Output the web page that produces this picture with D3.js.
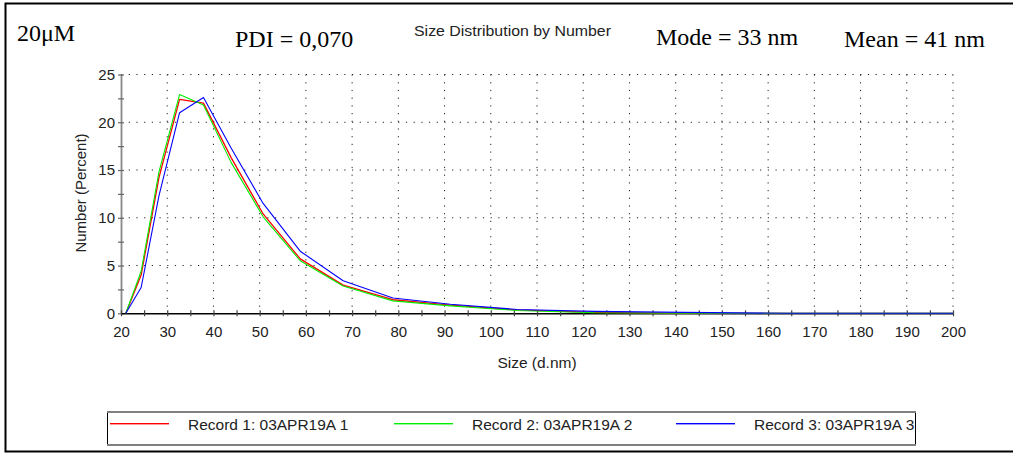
<!DOCTYPE html>
<html>
<head>
<meta charset="utf-8">
<script src="https://cdn.jsdelivr.net/npm/d3@7/dist/d3.min.js"></script>
<style>
  html, body { margin: 0; padding: 0; background: #fff; }
  svg { display: block; }
</style>
</head>
<body>
<svg id="chart" width="1013" height="453"></svg>
<script>
// ---- data ----
const sizes = [21.04, 24.36, 28.21, 32.67, 37.84, 43.82, 50.75, 58.77, 68.06, 78.82, 91.28, 105.7, 122.4, 141.8, 164.2, 190.1, 220.2];
const record1 = [0, 4.0, 14.2, 22.4, 22.0, 16.3, 10.4, 5.7, 2.95, 1.42, 0.85, 0.35, 0.1, 0, 0, 0, 0];
const record2 = [0, 4.4, 14.8, 22.9, 21.8, 15.8, 10.1, 5.5, 2.85, 1.3, 0.78, 0.3, 0.05, 0, 0, 0, 0];
const record3 = [0, 2.7, 12.3, 21.0, 22.6, 17.3, 11.5, 6.5, 3.4, 1.6, 0.95, 0.4, 0.2, 0.1, 0, 0, 0];
const seriesNames = ["Record 1: 03APR19A 1", "Record 2: 03APR19A 2", "Record 3: 03APR19A 3"];
const seriesColors = ["#ff0000", "#00ee00", "#0000ff"];
const xTicks = [20, 30, 40, 50, 60, 70, 80, 90, 100, 110, 120, 130, 140, 150, 160, 170, 180, 190, 200];
const yTicks = [0, 5, 10, 15, 20, 25];
const titleText = "Size Distribution by Number";
const annotations = ["20μM", "PDI = 0,070", "Mode = 33 nm", "Mean = 41 nm"];

// ---- layout ----
const svg = d3.select("#chart");
const pL = 121, pR = 953, pT = 74.5, pB = 313.3;
const x = d3.scaleLinear().domain([20, 200]).range([pL, pR]);
const y = d3.scaleLinear().domain([0, 25]).range([pB, pT]);

const sans = "'Liberation Sans', Arial, sans-serif";
const serif = "'Liberation Serif', 'Times New Roman', serif";

// outer frame
svg.append("path")
  .attr("d", "M1013,3.5 H5.5 V451.5 H1013")
  .attr("fill", "none").attr("stroke", "#000").attr("stroke-width", 2);

// annotations
svg.append("text").attr("x", 17).attr("y", 41).attr("font-family", serif).attr("font-size", 24).attr("fill", "#000").text(annotations[0]);
svg.append("text").attr("x", 235).attr("y", 47).attr("font-family", serif).attr("font-size", 24).attr("fill", "#000").text(annotations[1]);
svg.append("text").attr("x", 656).attr("y", 45).attr("font-family", serif).attr("font-size", 24).attr("fill", "#000").text(annotations[2]);
svg.append("text").attr("x", 844).attr("y", 47).attr("font-family", serif).attr("font-size", 24).attr("fill", "#000").text(annotations[3]);
svg.append("text").attr("x", 414).attr("y", 36).attr("font-family", sans).attr("font-size", 14.5).attr("fill", "#222")
  .attr("textLength", 197).attr("lengthAdjust", "spacingAndGlyphs").text(titleText);

// gridlines
const grid = svg.append("g");
grid.selectAll("line.v").data(xTicks.filter(d => d > 20)).join("line").attr("class", "v")
  .attr("x1", d => x(d)).attr("x2", d => x(d)).attr("y1", pT).attr("y2", pB)
  .attr("stroke", "#222").attr("stroke-width", 1).attr("stroke-dasharray", "1.2,6.5");
grid.selectAll("line.h").data(yTicks.filter(d => d > 0)).join("line").attr("class", "h")
  .attr("x1", pL).attr("x2", pR).attr("y1", d => y(d)).attr("y2", d => y(d))
  .attr("stroke", "#222").attr("stroke-width", 1).attr("stroke-dasharray", "1.2,6.5");

// y axis
const yAxis = d3.axisLeft(y).tickValues(d3.range(0, 25.01, 2.5)).tickSize(0)
  .tickFormat(d => yTicks.includes(d) ? d : "");
const gy = svg.append("g").attr("transform", `translate(${pL},0)`).call(yAxis);
gy.select(".domain").attr("stroke", "#888").attr("stroke-width", 1.8);
gy.selectAll(".tick line").attr("x1", -3).attr("x2", 3).attr("stroke", "#666").attr("stroke-width", 1.2);
gy.selectAll(".tick text").attr("x", -6).attr("font-family", sans).attr("font-size", 15).attr("fill", "#222");

// x axis
const xAxis = d3.axisBottom(x).tickValues(d3.range(20, 200.01, 5)).tickSize(0)
  .tickFormat(d => xTicks.includes(d) ? d : "");
const gx = svg.append("g").attr("transform", `translate(0,${pB})`).call(xAxis);
gx.select(".domain").attr("stroke", "#000").attr("stroke-width", 1.5);
gx.selectAll(".tick line").attr("y1", -3).attr("y2", 3).attr("stroke", "#444").attr("stroke-width", 1.2);
gx.selectAll(".tick text").attr("y", 13).attr("font-family", sans).attr("font-size", 15).attr("fill", "#222");

// axis titles
svg.append("text").attr("x", 537).attr("y", 368).attr("text-anchor", "middle")
  .attr("font-family", sans).attr("font-size", 15.5).attr("fill", "#222").text("Size (d.nm)");
svg.append("text").attr("transform", "translate(86,193) rotate(-90)").attr("text-anchor", "middle")
  .attr("font-family", sans).attr("font-size", 15).attr("fill", "#222").text("Number (Percent)");

// clip
svg.append("clipPath").attr("id", "plotclip").append("rect")
  .attr("x", pL).attr("y", pT - 5).attr("width", pR - pL).attr("height", pB - pT + 10);

// lines
const allSeries = [record1, record2, record3];
const lineGen = d3.line().x((d, i) => x(sizes[i])).y(d => y(d));
const lg = svg.append("g").attr("clip-path", "url(#plotclip)");
allSeries.forEach((vals, k) => {
  lg.append("path").datum(vals).attr("d", lineGen).attr("fill", "none")
    .attr("stroke", seriesColors[k]).attr("stroke-width", k === 0 ? 1.3 : 1.1)
    .attr("stroke-linejoin", "round");
});

// legend
const legend = svg.append("g");
legend.append("rect").attr("x", 107.5).attr("y", 412).attr("width", 808).attr("height", 33)
  .attr("fill", "#fff").attr("stroke", "#000").attr("stroke-width", 1);
legend.append("line").attr("x1", 107).attr("x2", 916).attr("y1", 412).attr("y2", 412).attr("stroke", "#808080").attr("stroke-width", 2);
legend.append("line").attr("x1", 107).attr("x2", 916).attr("y1", 445).attr("y2", 445).attr("stroke", "#808080").attr("stroke-width", 2);
const legX = [110, 394, 676];
seriesNames.forEach((name, k) => {
  legend.append("rect").attr("x", legX[k]).attr("y", 423).attr("width", 59).attr("height", 1.4)
    .attr("fill", seriesColors[k]).attr("stroke", "none");
  legend.append("text").attr("x", legX[k] + 78).attr("y", 429.5).attr("font-family", sans)
    .attr("font-size", 15.5).attr("fill", "#222").text(name);
});
</script>
</body>
</html>
